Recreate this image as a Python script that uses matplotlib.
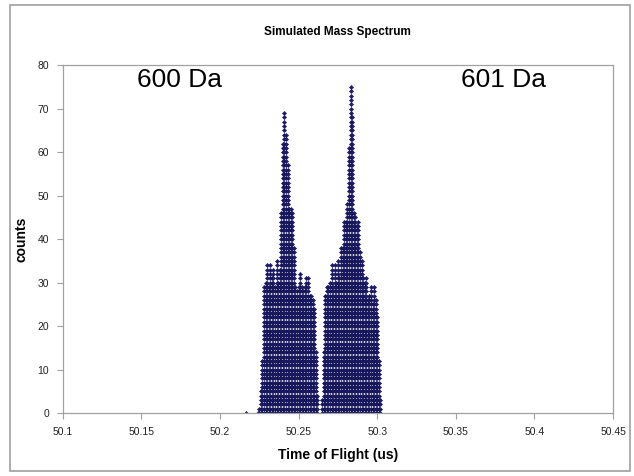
import matplotlib as mpl
mpl.use('Agg')
import matplotlib.pyplot as plt
from matplotlib.patches import Rectangle
import numpy as np

plt.rcParams['font.family'] = ['Liberation Sans', 'DejaVu Sans']

# histogram bins (time of flight, us) and counts per bin
peak600_start = 50.224
peak600_counts = [0, 1, 5, 12, 29, 30, 34, 29, 34, 31, 33, 29, 35, 30, 33, 46, 62, 69, 64, 57,
                  47, 47, 46, 38, 29, 28, 29, 32, 29, 28, 29, 31, 31, 27, 27, 26, 24, 14, 4]
peak601_start = 50.265
peak601_counts = [3, 14, 27, 29, 29, 30, 34, 29, 34, 30, 35, 31, 38, 38, 44, 44, 48, 61, 75, 68,
                  46, 45, 43, 44, 37, 35, 31, 30, 31, 26, 27, 29, 25, 29, 26, 22, 12, 3]
bin_width = 0.001
stray_t = [50.2165]
stray_counts = [0]

x_ticks = [50.1, 50.15, 50.2, 50.25, 50.3, 50.35, 50.4, 50.45]
y_ticks = [0, 10, 20, 30, 40, 50, 60, 70, 80]


def columns(start, counts):
    # every bin is drawn as a column of dots, one dot per count
    xs, ys = [], []
    for i, c in enumerate(counts):
        t = start + i * bin_width
        for k in range(c + 1):
            xs.append(t)
            ys.append(k)
    return xs, ys


x1, y1 = columns(peak600_start, peak600_counts)
x2, y2 = columns(peak601_start, peak601_counts)
xs = x1 + x2 + stray_t
ys = y1 + y2 + stray_counts

fig = plt.figure(figsize=(6.34, 4.76), dpi=100)
ax = fig.add_axes([0.099, 0.132, 0.868, 0.731])

ax.plot(xs, ys, 'D', color='#1c1c6b', markersize=2.2, markeredgewidth=0.3, markeredgecolor='#10104a')

ax.set_xlim(50.1, 50.45)
ax.set_ylim(0, 80)
ax.set_xticks(x_ticks)
ax.set_xticklabels(['50.1', '50.15', '50.2', '50.25', '50.3', '50.35', '50.4', '50.45'])
ax.set_yticks(y_ticks)

for s in ax.spines.values():
    s.set_color('#a0a0a0')
    s.set_linewidth(0.9)
ax.tick_params(direction='out', length=4, width=0.8, color='#a0a0a0',
               labelsize=7.5, labelcolor='#222222', pad=6)

ax.set_title('Simulated Mass Spectrum', fontsize=8.5, fontweight='bold', pad=22)
ax.set_xlabel('Time of Flight (us)', fontsize=10, fontweight='bold', labelpad=8)
ax.set_ylabel('counts', fontsize=10, fontweight='bold', labelpad=6)

ax.text(50.174, 76.5, '600 Da', fontsize=19, ha='center', va='center')
ax.text(50.38, 76.5, '601 Da', fontsize=19, ha='center', va='center')

# chart area border
fig.patches.append(Rectangle((10 / 634, 1 - 471 / 476), 620 / 634, 466 / 476,
                             transform=fig.transFigure, fill=False,
                             edgecolor='#a0a0a0', linewidth=1.2))

plt.savefig('out.png', dpi=100)
